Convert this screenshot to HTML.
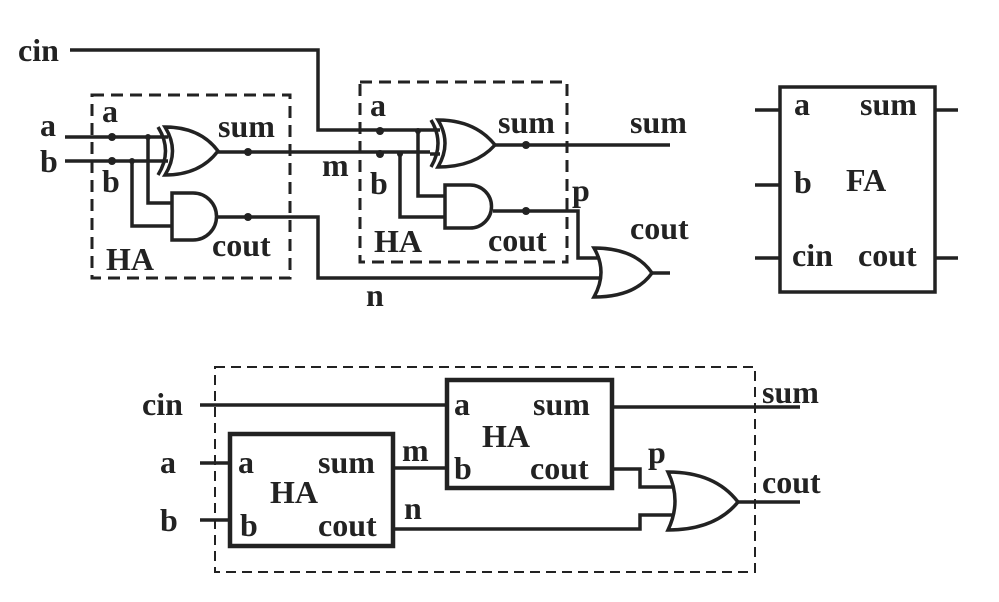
<!DOCTYPE html>
<html><head><meta charset="utf-8"><style>
html,body{margin:0;padding:0;background:#fff;}
svg{display:block;}
text{font-family:"Liberation Serif",serif;font-weight:bold;fill:#222;}
</style></head><body>
<svg width="999" height="602" viewBox="0 0 999 602" xmlns="http://www.w3.org/2000/svg">
<g stroke="#222" stroke-width="3.5" fill="none">
<!-- top-left HA -->
<rect x="92" y="95" width="198" height="183" stroke-dasharray="12,7" stroke-width="3"/>
<path d="M65 137 H168 M65 161 H168"/>
<path d="M148 137 V203 H172 M132 161 V226 H172"/>
<path d="M165 127 Q180 151 165 175 Q200 175 218 151 Q200 127 165 127 Z"/>
<path d="M158 127 Q173 151 158 175"/>
<path d="M172 193 H193 A23.5 23.5 0 0 1 193 240 H172 Z"/>
<path d="M218 152 H430"/>
<path d="M217 217 H318 V278 H600"/>
<path d="M70 50 H318 V130 H440"/>
<!-- second HA -->
<rect x="360" y="82" width="207" height="180" stroke-dasharray="12,7" stroke-width="3"/>
<path d="M430 154 H440"/>
<path d="M418 131 V196 H445 M400 154 V217 H445"/>
<path d="M438 120 Q452 143 438 167 Q475 167 495 145 Q475 120 438 120 Z"/>
<path d="M431 120 Q445 143 431 167"/>
<path d="M445 185 H470 A21.5 21.5 0 0 1 470 228 H445 Z"/>
<path d="M495 145 H670"/>
<path d="M493 211 H578 V258 H600"/>
<path d="M594 248 Q608 272 594 297 Q635 297 652 273 Q635 248 594 248 Z"/>
<path d="M652 273 H670"/>
<!-- FA -->
<rect x="780" y="87" width="155" height="205"/>
<path d="M755 110 H780 M755 185 H780 M755 258 H780 M935 110 H958 M935 258 H958"/>
<!-- bottom -->
<rect x="215" y="367" width="540" height="205" stroke-dasharray="10,6" stroke-width="2"/>
<rect x="447" y="380" width="165" height="108" stroke-width="4.5"/>
<rect x="230" y="434" width="163" height="112" stroke-width="4.5"/>
<path d="M200 405 H447 M200 463 H230 M200 520 H230 M393 468 H447"/>
<path d="M612 407 H800"/>
<path d="M612 469 H640 V487 H672 M393 529 H640 V515 H672"/>
<path d="M668 472 Q682 501 668 530 Q715 530 738 502 Q715 472 668 472 Z"/>
<path d="M738 502 H800"/>
</g>
<g fill="#222">
<circle cx="112" cy="137" r="4"/><circle cx="112" cy="161" r="4"/>
<circle cx="148" cy="137" r="3"/><circle cx="132" cy="161" r="3"/>
<circle cx="248" cy="152" r="4"/><circle cx="248" cy="217" r="4"/>
<circle cx="380" cy="131" r="4"/><circle cx="380" cy="154" r="4"/>
<circle cx="418" cy="131" r="3"/><circle cx="400" cy="154" r="3"/>
<circle cx="526" cy="145" r="4"/><circle cx="526" cy="211" r="4"/>
</g>
<g font-size="32">
<text x="18" y="61">cin</text>
<text x="40" y="136">a</text>
<text x="40" y="172">b</text>
<text x="102" y="122">a</text>
<text x="102" y="192">b</text>
<text x="218" y="137">sum</text>
<text x="212" y="256">cout</text>
<text x="106" y="270">HA</text>
<text x="322" y="176">m</text>
<text x="370" y="116">a</text>
<text x="370" y="194">b</text>
<text x="498" y="133">sum</text>
<text x="488" y="251">cout</text>
<text x="374" y="252">HA</text>
<text x="630" y="133">sum</text>
<text x="630" y="239">cout</text>
<text x="572" y="201">p</text>
<text x="366" y="306">n</text>
<text x="794" y="115">a</text>
<text x="860" y="115">sum</text>
<text x="794" y="193">b</text>
<text x="846" y="191">FA</text>
<text x="792" y="266">cin</text>
<text x="858" y="266">cout</text>
<text x="142" y="415">cin</text>
<text x="160" y="473">a</text>
<text x="160" y="531">b</text>
<text x="238" y="473">a</text>
<text x="318" y="473">sum</text>
<text x="270" y="503">HA</text>
<text x="240" y="536">b</text>
<text x="318" y="536">cout</text>
<text x="402" y="461">m</text>
<text x="404" y="519">n</text>
<text x="454" y="415">a</text>
<text x="533" y="415">sum</text>
<text x="482" y="447">HA</text>
<text x="454" y="479">b</text>
<text x="530" y="479">cout</text>
<text x="648" y="463">p</text>
<text x="762" y="403">sum</text>
<text x="762" y="493">cout</text>
</g>
</svg>
</body></html>
